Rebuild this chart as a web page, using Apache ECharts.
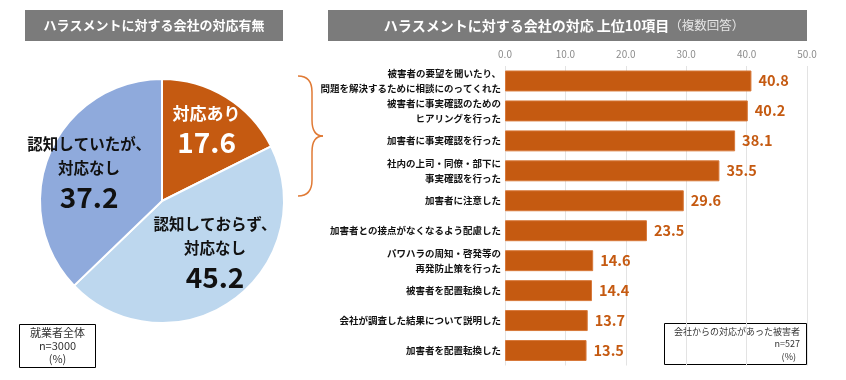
<!DOCTYPE html>
<html><head><meta charset="utf-8">
<script src="https://cdn.jsdelivr.net/npm/echarts@6/dist/echarts.min.js"></script>
<style>html,body{margin:0;padding:0;background:#fff}#c{width:846px;height:380px}</style>
</head><body><div id="c"></div>
<script>
const pieNames = ['対応あり', '認知しておらず、\n対応なし', '認知していたが、\n対応なし'];
const pieValues = [17.6, 45.2, 37.2];
const pieColors = ['#c55a11', '#bdd7ee', '#8faadc'];

const barCategories = [
  '被害者の要望を聞いたり、\n問題を解決するために相談にのってくれた',
  '被害者に事実確認のための\nヒアリングを行った',
  '加害者に事実確認を行った',
  '社内の上司・同僚・部下に\n事実確認を行った',
  '加害者に注意した',
  '加害者との接点がなくなるよう配慮した',
  'パワハラの周知・啓発等の\n再発防止策を行った',
  '被害者を配置転換した',
  '会社が調査した結果について説明した',
  '加害者を配置転換した'
];
const barValues = [40.8, 40.2, 38.1, 35.5, 29.6, 23.5, 14.6, 14.4, 13.7, 13.5];
const xTicks = [0, 10, 20, 30, 40, 50];

const FONT = '"Noto Sans CJK JP", "Noto Sans", sans-serif';
const chart = echarts.init(document.getElementById('c'), null, {renderer: 'canvas'});

const labelOffsets = [[11, -17], [16, 0], [-14, -3]];
const BR = '#e07a35';
const braceStyle = {stroke: BR, lineWidth: 1.5, fill: 'none'};

chart.setOption({
  animation: false,
  textStyle: {fontFamily: FONT},
  grid: {left: 505, right: 39, top: 66, bottom: 14.5},
  xAxis: {
    type: 'value', position: 'top',
    min: xTicks[0], max: xTicks[xTicks.length - 1], interval: 10,
    axisLine: {show: false}, axisTick: {show: false},
    axisLabel: {color: '#8c8c8c', fontSize: 10, margin: 7, fontFamily: FONT,
      formatter: v => v.toFixed(1)},
    splitLine: {show: true, lineStyle: {color: '#e3e3e3', width: 1}}
  },
  yAxis: {
    type: 'category', inverse: true, data: barCategories,
    axisLine: {show: false}, axisTick: {show: false},
    axisLabel: {color: '#111', fontSize: 9.5, fontWeight: 'bold', lineHeight: 15,
      margin: 4, fontFamily: FONT, align: 'right'}
  },
  series: [
    {
      type: 'bar', data: barValues, barCategoryGap: '30%',
      itemStyle: {color: '#c55a11', borderColor: '#d8793a', borderWidth: 1},
      label: {show: true, position: 'right', distance: 7, color: '#c55a11',
        fontSize: 14.5, fontWeight: 'bold', fontFamily: FONT,
        formatter: p => p.value.toFixed(1)}
    },
    {
      type: 'pie', center: [162, 201], radius: 122, startAngle: 90, clockwise: true,
      itemStyle: {borderColor: '#fff', borderWidth: 2},
      data: pieNames.map((n, i) => ({
        name: n, value: pieValues[i],
        itemStyle: {color: pieColors[i]},
        label: i === 0 ? {
          color: '#fff',
          rich: {n: {fontSize: 17, fontWeight: 'bold', color: '#fff', lineHeight: 26, fontFamily: FONT},
                 v: {fontSize: 28, fontWeight: 'bold', color: '#fff', lineHeight: 32, fontFamily: FONT}}
        } : {
          color: '#111',
          rich: {n: {fontSize: 15.5, fontWeight: 'bold', color: '#111', lineHeight: 24, fontFamily: FONT},
                 v: {fontSize: 28, fontWeight: 'bold', color: '#111', lineHeight: 34, fontFamily: FONT}}
        }
      })),
      label: {
        show: true, position: 'inside', align: 'center',
        formatter: p => p.name.split('\n').map(s => '{n|' + s + '}').join('\n') + '\n{v|' + p.value.toFixed(1) + '}'
      },
      labelLine: {show: false},
      labelLayout: p => ({dx: labelOffsets[p.dataIndex][0], dy: labelOffsets[p.dataIndex][1]})
    }
  ],
  graphic: [
    {type: 'rect', shape: {x: 25, y: 10, width: 258, height: 31}, style: {fill: '#7b7b7b'}},
    {type: 'text', x: 154, y: 25.5, style: {text: 'ハラスメントに対する会社の対応有無', fill: '#fff',
      font: 'bold 13px ' + FONT, textAlign: 'center', textVerticalAlign: 'middle'}},
    {type: 'rect', shape: {x: 328, y: 10, width: 479, height: 31}, style: {fill: '#7b7b7b'}},
    {type: 'text', x: 564, y: 25.5, style: {
      text: '{a|ハラスメントに対する会社の対応 上位10項目}{b|（複数回答）}',
      textAlign: 'center', textVerticalAlign: 'middle',
      rich: {a: {fill: '#fff', fontSize: 14, fontWeight: 'bold', fontFamily: FONT},
             b: {fill: '#e6e6e6', fontSize: 12.5, fontFamily: FONT}}}},
    {type: 'rect', shape: {x: 19.5, y: 324.5, width: 76, height: 43}, style: {fill: '#fff', stroke: '#000', lineWidth: 1}},
    {type: 'text', x: 57.5, y: 346, style: {text: '就業者全体\nn=3000\n(%)', fill: '#333',
      font: '11px ' + FONT, lineHeight: 13, textAlign: 'center', textVerticalAlign: 'middle'}},
    {type: 'rect', shape: {x: 664.5, y: 323.5, width: 142, height: 41}, style: {fill: '#fff', stroke: '#000', lineWidth: 1}},
    {type: 'text', x: 800, y: 344, style: {text: '会社からの対応があった被害者\nn=527\n(%)  ', fill: '#333',
      font: '9px ' + FONT, lineHeight: 12.5, textAlign: 'right', textVerticalAlign: 'middle'}},
    {type: 'bezierCurve', shape: {x1: 298, y1: 76, x2: 312, y2: 92, cpx1: 312, cpy1: 76}, style: braceStyle},
    {type: 'line', shape: {x1: 312, y1: 92, x2: 312, y2: 120}, style: braceStyle},
    {type: 'bezierCurve', shape: {x1: 312, y1: 120, x2: 323, y2: 136, cpx1: 312, cpy1: 136}, style: braceStyle},
    {type: 'bezierCurve', shape: {x1: 323, y1: 136, x2: 312, y2: 152, cpx1: 312, cpy1: 136}, style: braceStyle},
    {type: 'line', shape: {x1: 312, y1: 152, x2: 312, y2: 180}, style: braceStyle},
    {type: 'bezierCurve', shape: {x1: 312, y1: 180, x2: 298, y2: 196, cpx1: 312, cpy1: 196}, style: braceStyle}
  ]
});
</script></body></html>
